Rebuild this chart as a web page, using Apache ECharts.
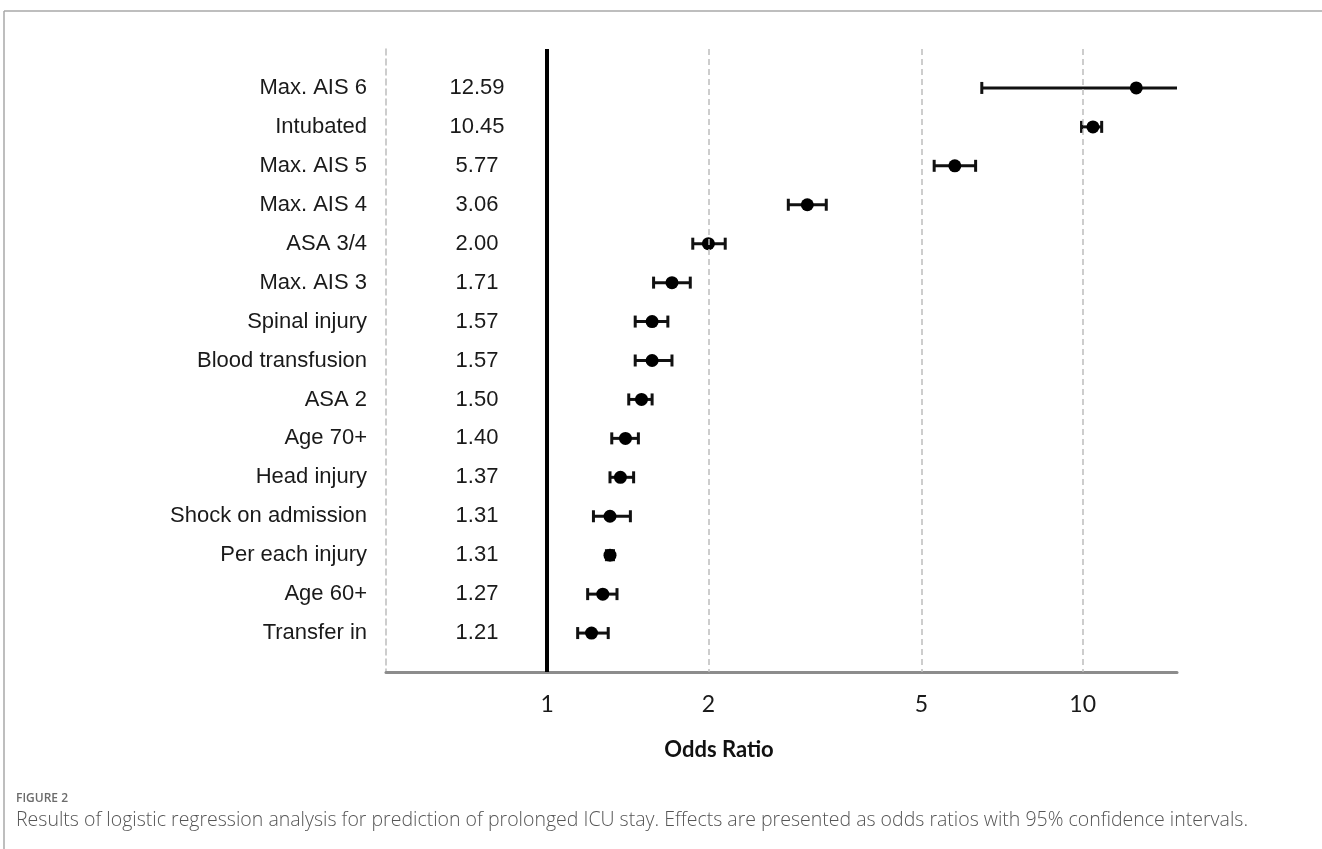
<!DOCTYPE html>
<html>
<head>
    <meta charset="utf-8">
    <title>Figure 2</title>
    <script src="https://cdn.jsdelivr.net/npm/echarts@6.0.0/dist/echarts.min.js"></script>
    <style>
        html, body { margin: 0; padding: 0; background: #fff; }
        #chart1 { width: 1322px; height: 849px; }
    </style>
</head>
<body>
<div id="chart1"></div>
<script type="text/javascript">
    // rows, top to bottom
    var factors = ['Max. AIS 6', 'Intubated', 'Max. AIS 5', 'Max. AIS 4', 'ASA 3/4', 'Max. AIS 3',
        'Spinal injury', 'Blood transfusion', 'ASA 2', 'Age 70+', 'Head injury',
        'Shock on admission', 'Per each injury', 'Age 60+', 'Transfer in'];
    var oddsRatio = [12.59, 10.45, 5.77, 3.06, 2.00, 1.71, 1.57, 1.57, 1.50, 1.40, 1.37, 1.31, 1.31, 1.27, 1.21];
    // 95% CI
    var ciLower = [6.48, 9.95, 5.28, 2.82, 1.87, 1.58, 1.46, 1.46, 1.42, 1.32, 1.31, 1.22, 1.29, 1.19, 1.14];
    var ciUpper = [24.5, 10.85, 6.31, 3.32, 2.15, 1.85, 1.68, 1.71, 1.57, 1.48, 1.45, 1.43, 1.33, 1.35, 1.30];
    var xTicks = [1, 2, 5, 10];
    var dashedRefs = [2, 5, 10];

    var pointData = oddsRatio.map(function (v, i) { return [v, i + 1]; });
    var barData = ciLower.map(function (v, i) { return [v, ciUpper[i], i + 1]; });

    function renderBar(params, api) {
        var y = api.value(2);
        var a = api.coord([api.value(0), y]);
        var b = api.coord([api.value(1), y]);
        var h = 6;
        var st = { stroke: '#111', lineWidth: 3 };
        return {
            type: 'group',
            children: [
                { type: 'line', shape: { x1: a[0], y1: a[1], x2: b[0], y2: b[1] }, style: st },
                { type: 'line', shape: { x1: a[0], y1: a[1] - h, x2: a[0], y2: a[1] + h }, style: st },
                { type: 'line', shape: { x1: b[0], y1: b[1] - h, x2: b[0], y2: b[1] + h }, style: st }
            ]
        };
    }

    var refLines = [{ xAxis: 1, lineStyle: { color: '#000', width: 4, type: 'solid' } }];
    dashedRefs.forEach(function (v) {
        refLines.push({ xAxis: v, lineStyle: { color: '#bdbdbd', width: 1.5, type: [6, 4] } });
    });

    var myChart1 = echarts.init(document.getElementById('chart1'));
    myChart1.setOption({
        animation: false,
        grid: { left: 386, right: 145, top: 49, bottom: 177 },
        xAxis: {
            type: 'log',
            logBase: 10,
            min: 0.5,
            max: 15,
            position: 'bottom',
            axisLine: { onZero: false, lineStyle: { color: '#8c8c8c', width: 3 } },
            axisTick: { show: false },
            splitLine: { show: false },
            axisLabel: {
                customValues: xTicks,
                margin: 21,
                color: '#1a1a1a',
                fontFamily: 'Lato',
                fontSize: 23,
                formatter: function (v) { return String(v); }
            },
            name: 'Odds Ratio',
            nameLocation: 'middle',
            nameGap: 67,
            nameTextStyle: {
                fontFamily: 'Lato', fontWeight: 'bold', fontSize: 22, color: '#111',
                padding: [0, 125, 0, 0]
            }
        },
        yAxis: [{
            type: 'value',
            min: 0,
            max: 16,
            interval: 1,
            inverse: true,
            axisLine: { show: true, onZero: false, lineStyle: { color: '#bdbdbd', width: 1.5, type: [6, 4] } },
            axisTick: { show: false },
            splitLine: { show: false },
            axisLabel: {
                margin: 19,
                color: '#1a1a1a',
                fontFamily: 'Liberation Sans',
                fontSize: 22,
                formatter: function (v) { return factors[v - 1] || ''; }
            }
        }, {
            type: 'value',
            position: 'left',
            min: 0,
            max: 16,
            interval: 1,
            inverse: true,
            axisLine: { show: false },
            axisTick: { show: false },
            splitLine: { show: false },
            axisLabel: {
                inside: true,
                margin: 91,
                align: 'center',
                color: '#1a1a1a',
                fontFamily: 'Liberation Sans',
                fontSize: 22,
                formatter: function (v) {
                    return oddsRatio[v - 1] ? oddsRatio[v - 1].toFixed(2) : '';
                }
            }
        }],
        series: [{
            type: 'scatter',
            data: [],
            z: 1,
            markLine: { silent: true, symbol: 'none', label: { show: false }, data: refLines }
        }, {
            type: 'custom',
            renderItem: renderBar,
            data: barData,
            encode: { x: [0, 1], y: 2 },
            clip: true,
            z: 3
        }, {
            type: 'scatter',
            data: pointData,
            symbol: 'circle',
            symbolSize: 13,
            itemStyle: { color: '#000', opacity: 1 },
            z: 4
        }],
        graphic: [
            { type: 'line', shape: { x1: 4, y1: 11, x2: 1322, y2: 11 }, style: { stroke: '#a8a8a8', lineWidth: 1.5 } },
            { type: 'line', shape: { x1: 4, y1: 11, x2: 4, y2: 849 }, style: { stroke: '#a8a8a8', lineWidth: 1.5 } },
            {
                type: 'text', left: 16, top: 793,
                style: { text: 'FIGURE 2', font: '600 12px "Open Sans"', fill: '#6b6b6b' }
            },
            {
                type: 'text', left: 16, top: 810,
                style: {
                    text: 'Results of logistic regression analysis for prediction of prolonged ICU stay. Effects are presented as odds ratios with 95% confidence intervals.',
                    font: '300 19.5px "Open Sans"', fill: '#555'
                }
            }
        ]
    });
</script>
</body>
</html>
